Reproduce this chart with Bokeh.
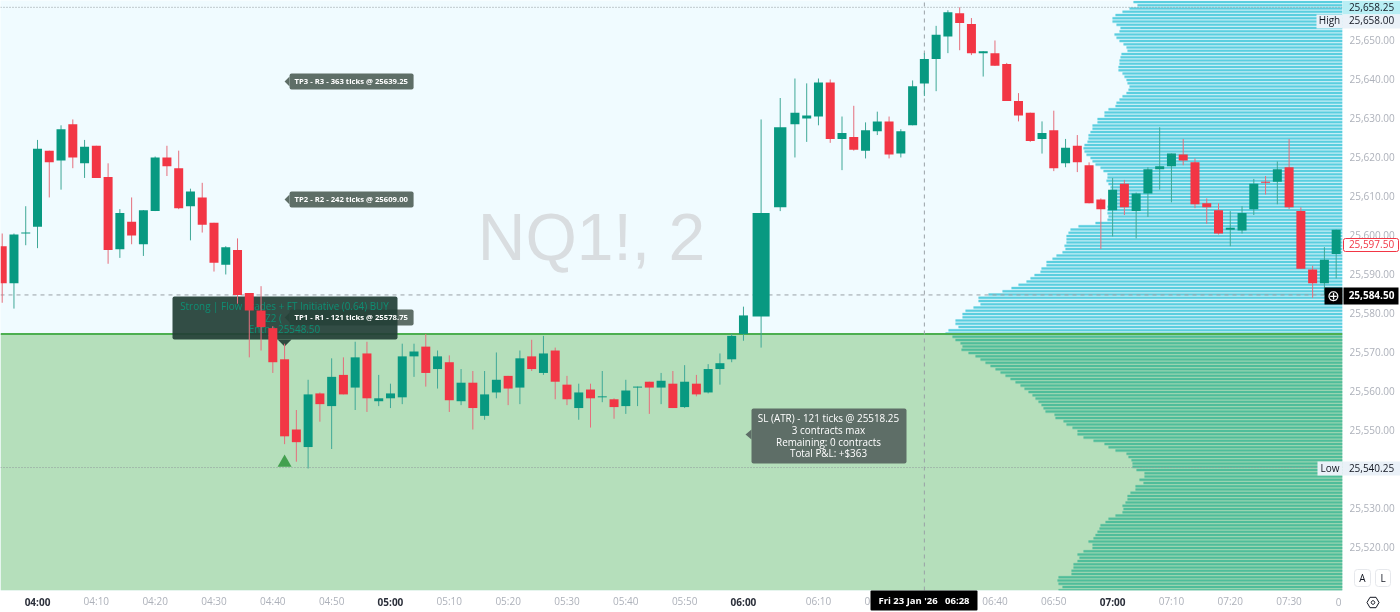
from bokeh.plotting import figure
from bokeh.embed import file_html
from bokeh.resources import INLINE
from bokeh.models import FixedTicker, NumeralTickFormatter, ColumnDataSource
from bokeh.core.properties import value
import math

# ---------------------------------------------------------------- data
first_minute = 234      # 03:54, bars are two minutes apart
open_ = [25597,25587.5,25600.25,25602,25621.5,25619,25628.25,25618.25,25622.75,25614.75,25596.25,25603.25,25597.5,25606,25619.75,25617,25607.25,25609.5,25603,25592.25,25596,25585,25580.5,25576,25568,25550,25545.5,25559.25,25556,25564,25560.75,25569.5,25557.25,25558,25558.25,25568.75,25571.25,25565.5,25567.25,25557.25,25562,25553.5,25559.5,25563.75,25560.75,25568.75,25564.5,25570.25,25561.5,25555.5,25560.25,25558.25,25557.75,25556,25560.75,25562.25,25560.75,25561.75,25555.75,25561.75,25559.5,25565.5,25568,25574.5,25579,25607,25628.25,25629.75,25630.25,25639,25624.5,25625,25621.5,25626.5,25629,25620.75,25628,25638.75,25645,25650.75,25656.75,25654,25646.5,25646.5,25643.75,25634.25,25631.25,25624.5,25626.75,25618.25,25622.75,25617.75,25609,25606.25,25613,25606,25610.5,25616.75,25617.5,25620.5,25618.5,25608,25606.25,25601.25,25601,25606.5,25613.5,25613.5,25617.25,25606,25591,25587.5,25595]
high_ = [25600.25,25600.25,25607.25,25624.25,25621.5,25628,25629.5,25624.25,25622.75,25618.25,25606.5,25609.5,25606.25,25620,25622.75,25621.5,25611.75,25613.25,25603,25597,25599,25585,25586.75,25576.5,25572,25555,25562.75,25559.5,25568.25,25568.5,25572.5,25572.5,25564,25561.75,25572,25572,25574.5,25570.25,25569,25565.5,25565,25565,25569.75,25563.75,25570.25,25573,25574,25571,25563.75,25561.75,25561.75,25565,25558,25562.75,25561,25562.25,25564.5,25565,25566.5,25564,25566.75,25569.5,25574.5,25581.5,25629.5,25635,25640,25638.75,25640,25639.75,25630.25,25633,25628.75,25631.5,25630.25,25627,25639.5,25646.5,25653.5,25657.5,25658.25,25655.5,25647,25649.75,25644,25636.25,25631.25,25629,25631.75,25624.5,25625.5,25618.5,25609.25,25614.5,25614,25610.75,25617.25,25627.5,25620.75,25624.5,25619.5,25609.25,25608,25606,25607.25,25614.25,25615,25618.75,25624.5,25607,25592,25596.75,25601.25]
low_ = [25582.5,25581,25597.25,25596.5,25609.5,25611.5,25617,25614.5,25614.5,25592.5,25594,25597.5,25594.5,25606,25615,25606.5,25598.5,25600.5,25590.5,25589.75,25582.25,25568.5,25570.25,25564.5,25546.25,25541.75,25540,25552,25545,25559,25555,25554.5,25556,25555.5,25556.5,25563.5,25561,25560.5,25554.5,25556.25,25550,25552.5,25558,25556.25,25556.5,25565,25564,25557.75,25556.25,25552.5,25550.5,25557,25552.75,25554,25556,25554,25556.5,25555.5,25555.5,25558.5,25559.25,25561.5,25567.25,25572.75,25571,25606,25619.75,25623.75,25628,25623.5,25616.5,25621.5,25619.5,25625.5,25619.5,25619.75,25628,25635.5,25636.75,25646.5,25647.25,25646,25640.5,25643.25,25634.25,25629,25623.75,25620.75,25616.25,25617.25,25616,25608,25596.25,25599.5,25605,25599,25604.5,25611.5,25608.25,25617.75,25606.75,25602.75,25600,25597,25600.25,25605,25610.25,25607.75,25606.5,25591.25,25583.75,25584.5,25588.75]
close_ = [25587.5,25600,25600.5,25622,25618.5,25627,25619.75,25622.5,25614.5,25596,25605.5,25599.75,25606.25,25619.75,25617.5,25606.75,25611,25602.5,25592.75,25596.75,25584.5,25580.5,25576.25,25567.25,25548.25,25546.75,25559,25556.5,25563.5,25559,25568.5,25558,25558,25559.25,25568.75,25570,25564.5,25568.75,25557.5,25562,25555.5,25559,25562.75,25560.5,25568.25,25565.5,25569.5,25562.25,25557.75,25559.5,25558,25558.5,25555.75,25560,25561,25560.75,25562.5,25555.5,25562.25,25559,25565.5,25567,25574,25579.25,25605.5,25627.5,25631.25,25630.5,25639,25624.5,25626,25621.75,25626.75,25629,25620.5,25626.5,25638,25645,25651.25,25657,25654.25,25646.5,25647,25643.25,25634.25,25630.5,25624,25626,25617,25622.25,25618.5,25608,25606.5,25611.5,25607,25610.5,25616.75,25617.5,25620.75,25619,25607.75,25607,25600.25,25601.75,25605.5,25613,25613.25,25616.75,25607,25591.25,25587.5,25593.5,25601.25]

# length of each volume-profile row, top row first
profile_up = [209,205,213,220,227,230,230,226,222,223,228,226,223,219,216,215,221,222,223,223,224,224,220,218,216,215,213,214,216,220,223,226,227,234,238,238,245,245,250,250,252,254,254,255,258,259,258,256,252,250,247,242,239,235,235,236,234,232,232,232,233,234,234,235,235,235,234,235,247,264,272,274,276,276,276,278,277,280,286,290,296,296,301,302,308,312,316,324,331,340,354,364,364,362,369,377,380,380,387,387,384,394,397]
profile_down = [390,387,382,380,381,374,367,362,357,352,347,342,337,332,327,322,318,314,310,307,304,301,299,297,288,287,279,276,270,265,265,259,249,238,234,227,216,214,211,210,210,206,198,198,203,199,207,207,212,215,215,217,220,219,220,227,234,237,242,243,245,247,249,254,250,250,259,265,263,265,269,269,271,271,284,285,284,280,284]

hour_ticks = [240, 300, 360, 420]
hour_labels = ["04:00", "05:00", "06:00", "07:00"]
time_ticks = [250,260,270,280,290,310,320,330,340,350,370,380,390,400,410,430,440,450]
time_labels = ["04:10","04:20","04:30","04:40","04:50","05:10","05:20","05:30","05:40","05:50",
               "06:10","06:20","06:30","06:40","06:50","07:10","07:20","07:30"]
price_ticks = list(range(25520, 25651, 10))

cross_price = 25584.50
cross_minute = 388
high_price = 25658.25
low_price = 25540.25
zone_top = 25574.50
signal_minute = 282
signal_price = 25541.5

tp_prices = [25639.25, 25609.00, 25578.75]
tp_texts = ["TP3 - R3 - 363 ticks @ 25639.25", "TP2 - R2 - 242 ticks @ 25609.00", "TP1 - R1 - 121 ticks @ 25578.75"]
sl_lines = ["SL (ATR) - 121 ticks @ 25518.25", "3 contracts max", "Remaining: 0 contracts", "Total P&L: +$363"]

# ---------------------------------------------------------------- chart frame
PX_MIN = 5.883        # pixels per minute
PX_PT = 3.9           # pixels per point
X0 = 240 - 37 / PX_MIN
Y0 = 25660.0
FRAME_W, FRAME_H = 1342, 590


def xd(px):
    return X0 + px / PX_MIN


def yd(py):
    return Y0 - py / PX_PT


# the reference's time axis is stretched around the 06:02 bar
STRETCH = {362: 1.0, 364: 2.25}


def chart_x(m):
    if m in STRETCH:
        return m + STRETCH[m]
    return m + 2.75 if m >= 366 else float(m)


wide = {362: 2.9, 364: 2.1}

TXT = "Open Sans"
GREEN, RED = "#089981", "#F23645"

p = figure(frame_width=FRAME_W, frame_height=FRAME_H, output_backend="svg", toolbar_location=None,
           x_range=(X0, xd(FRAME_W)), y_range=(yd(FRAME_H), Y0), y_axis_location="right",
           min_border_left=0, min_border_right=58, min_border_top=0, min_border_bottom=22,
           background_fill_color="#F0FBFF", border_fill_color="#FFFFFF", outline_line_color=None)
p.styles = {"position": "fixed", "left": "0", "top": "0"}
p.grid.visible = False

ax = p.xaxis[0]
ticks = [chart_x(m) for m in time_ticks + hour_ticks]
ax.ticker = FixedTicker(ticks=ticks)
ax.major_label_overrides = {**{chart_x(m): t for m, t in zip(time_ticks, time_labels)},
                            **{chart_x(m): " " for m in hour_ticks}}
ax.major_tick_line_color = None
ax.minor_tick_line_color = None
ax.major_tick_out = 0
ax.major_tick_in = 0
ax.axis_line_color = None
ax.major_label_standoff = 3
ax.major_label_text_color = "#ADB1BA"
ax.major_label_text_font = TXT
ax.major_label_text_font_size = "10px"

ay = p.yaxis[0]
ay.ticker = FixedTicker(ticks=price_ticks)
ay.formatter = NumeralTickFormatter(format="0,0.00")
ay.major_tick_line_color = None
ay.minor_tick_line_color = None
ay.major_tick_out = 0
ay.major_tick_in = 0
ay.axis_line_color = None
ay.major_label_standoff = 7
ay.major_label_text_color = "#ADB1BA"
ay.major_label_text_font = TXT
ay.major_label_text_font_size = "10px"

# zone below the line
p.quad(left=xd(0), right=xd(FRAME_W), top=zone_top, bottom=yd(FRAME_H), fill_color="#B5DFBB", line_color=None)

# watermark
p.text(x=[xd(591)], y=[yd(236)], text=["NQ1!, 2"], text_font=value("Liberation Sans"), text_font_size="66px",
       text_color="#D9DDE0", text_align="center", text_baseline="middle")

# volume profile: a pale full-height row with the darker stripe on it
rows = profile_up + profile_down
row_price = [Y0 - (1.6 + 3.25 * i) / PX_PT for i in range(len(rows))]
row_left = [xd(FRAME_W) - v / PX_MIN for v in rows]
row_color = ["#5ACEDF" if i < len(profile_up) else "#4FBD9A" for i in range(len(rows))]
p.hbar(y=row_price, left=row_left, right=xd(FRAME_W), height=0.8333, fill_color=row_color, fill_alpha=0.3,
       line_color=None)
p.hbar(y=row_price, left=row_left, right=xd(FRAME_W), height=0.52, fill_color=row_color, line_color=None)

p.line([xd(0), xd(FRAME_W)], [zone_top, zone_top], line_color="#4CAF50", line_width=2)

# dotted high / low, crosshair
DOT = "#8F979C"
for price in (high_price, low_price):
    p.line([xd(0), xd(FRAME_W)], [price, price], line_color=DOT, line_dash="1 2", line_width=1)
p.line([xd(0), xd(FRAME_W)], [cross_price, cross_price], line_color="#9AA0A6", line_dash="4 4", line_width=1)
p.line([chart_x(cross_minute)] * 2, [yd(FRAME_H), Y0], line_color="#9AA0A6", line_dash="4 4", line_width=1)

# tooltips: boxes
TIP = "#5E6E67"
tip_x = chart_x(signal_minute)
box_l = tip_x + 5 / PX_MIN
box_r = tip_x + 129 / PX_MIN
HALF = 8 / PX_PT
p.quad(left=box_l, right=box_r, top=[t + HALF for t in tp_prices], bottom=[t - HALF for t in tp_prices],
       fill_color=TIP, line_color=None, border_radius=2)
for t in tp_prices:
    p.patch([tip_x, box_l, box_l], [t, t + 5 / PX_PT, t - 5 / PX_PT], fill_color=TIP, line_color=None)

# signal box, under the candles
DARK = "#233F37"
p.quad(left=xd(172), right=xd(397), top=yd(296), bottom=yd(339), fill_color=DARK, fill_alpha=0.93,
       line_color=None, border_radius=2)
p.patch([tip_x, tip_x - 7 / PX_MIN, tip_x + 7 / PX_MIN], [yd(346), yd(339), yd(339)], fill_color=DARK, fill_alpha=0.93,
        line_color=None)
p.text(x=[xd(284), xd(273), xd(284)], y=[yd(305), yd(317), yd(328)],
       text=["Strong | Flow Trades + FT Initiative (0.64) BUY", "Z2 (", "Entry: 25548.50"],
       text_font=value(TXT), text_font_size="9.9px", text_color="#0D8F74", text_align="center", text_baseline="middle")

# candles
minutes = [first_minute + 2 * i for i in range(len(open_))]
xs = [chart_x(m) for m in minutes]
colors = [GREEN if c >= o else RED for o, c in zip(open_, close_)]
wicks = ["#3FA897" if c >= o else "#E56E7C" for o, c in zip(open_, close_)]
widths = [wide.get(m, 1.53) for m in minutes]
src = ColumnDataSource(dict(x=xs, o=open_, h=high_, l=low_, c=close_, color=colors, wick=wicks, w=widths,
                            top=[max(a, b) for a, b in zip(open_, close_)], bottom=[min(a, b) for a, b in zip(open_, close_)]))
p.segment("x", "h", "x", "l", source=src, line_color="wick", line_width=1)
p.vbar(x="x", width="w", top="top", bottom="bottom", source=src, fill_color="color", line_color=None)

# entry marker
p.scatter([chart_x(signal_minute)], [signal_price], marker="triangle", size=14, fill_color="#43A04F", line_color=None)

# stop box
p.quad(left=xd(751), right=xd(906), top=yd(408), bottom=yd(463), fill_color=TIP, line_color=None, border_radius=2)
p.patch([xd(745), xd(751), xd(751)], [yd(434), yd(429), yd(439)], fill_color=TIP, line_color=None)
p.text(x=[xd(828)] * 4, y=[yd(417), yd(429), yd(441), yd(452)], text=sl_lines, text_font=value(TXT),
       text_font_size="9.9px", text_color="#FFFFFF", text_align="center", text_baseline="middle")
p.text(x=[box_l + 5 / PX_MIN] * 3, y=tp_prices, text=tp_texts, text_font=value(TXT), text_font_style="bold",
       text_font_size="7.7px", text_color="#FFFFFF", text_align="left", text_baseline="middle")

# ---------------------------------------------------------------- price and time tags, on a clear sheet over the chart
q = figure(frame_width=1400, frame_height=612, output_backend="svg", toolbar_location=None,
           x_range=(0, 1400), y_range=(612, 0), x_axis_type=None, y_axis_type=None,
           min_border=0, outline_line_color=None, background_fill_alpha=0, border_fill_alpha=0)
q.styles = {"position": "fixed", "left": "0", "top": "0", "z-index": "2"}
q.grid.visible = False


def box(l, r, t, b, fill, line=None, radius=0):
    q.quad(left=l, right=r, top=t, bottom=b, fill_color=fill, line_color=line, border_radius=radius)


def tag(px, py, text, color, size="10px", style="normal", font=TXT):
    q.text(x=[px], y=[py - 0.7], text=[text], text_color=color, text_font_size=size, text_font=value(font),
           text_font_style=style, text_align="center", text_baseline="middle")


DK = "#131722"
for m, t in zip(hour_ticks, hour_labels):
    tag(37 + (chart_x(m) - 240) * PX_MIN, 601.7, t, "#2A2E39", style="bold")
tag(1338, 601.7, "0", "#ADB1BA")

box(1342, 1400, 0, 14, "#B8EEF4")
tag(1371, 7, "25,658.25", DK)
box(1342, 1400, 14, 28, "#EAF1F8")
tag(1371, 20.5, "25,658.00", DK)
box(1316, 1342, 14, 28, "#EAF1F8")
tag(1329, 20.5, "High", DK)

box(1343, 1398, 238, 251, "#FFFFFF", line=RED, radius=2)
tag(1371, 244.5, "25,597.50", RED)

box(1324, 1342, 287, 304, "#000000")
tag(1333, 295.7, "\u2295", "#FFFFFF", size="15px", font="DejaVu Sans")
box(1343, 1398, 287, 304, "#000000")
tag(1371, 295.5, "25,584.50", "#FFFFFF", style="bold")

box(1342, 1400, 461, 475, "#EAF1F8")
tag(1371, 468, "25,540.25", DK)
box(1317, 1342, 461, 475, "#EAF1F8")
tag(1329.5, 468, "Low", DK)

box(870, 977, 590, 610, "#000000", radius=1)
tag(923.5, 601, "Fri 23 Jan '26\u00a0\u00a0\u00a006:28", "#FFFFFF", style="bold", size="9.5px")

box(1354, 1370, 569, 586, "#FFFFFF", line="#E6E8EC", radius=3)
tag(1362, 578, "A", DK)
box(1375, 1390, 569, 586, "#FFFFFF", line="#E6E8EC", radius=3)
tag(1382.5, 578, "L", DK)


def ring(cx, cy, r, n):
    ang = [2 * math.pi * i / n for i in range(n + 1)]
    q.line([cx + r * math.cos(a) for a in ang], [cy + r * math.sin(a) for a in ang], line_color=DK, line_width=1)


ring(1372.5, 602, 6, 6)
ring(1372.5, 602, 1.8, 12)

open("out.html", "w").write(file_html([p, q], INLINE))
